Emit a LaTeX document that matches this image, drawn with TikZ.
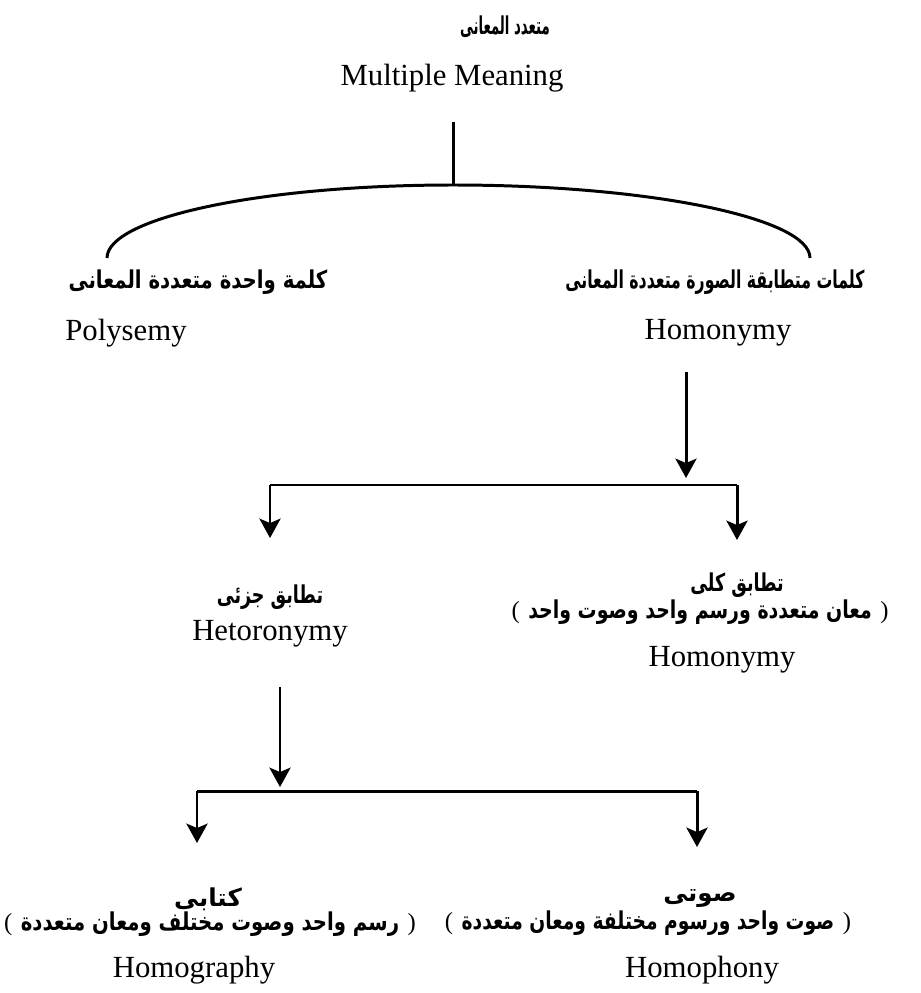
\documentclass[tikz,border=0pt]{standalone}
\usepackage{fontspec}
\usepackage{graphicx}
\setmainfont{Liberation Serif}
\newfontfamily\arabicfont[Script=Arabic]{DejaVu Sans}
\TeXXeTstate=1
\usetikzlibrary{arrows.meta}
\newcommand\lp{{\normalfont(}}
\newcommand\rp{{\normalfont)}}
\begin{document}
\begin{tikzpicture}[x=0.02cm,y=-0.02cm,
  en/.style={font=\fontsize{17.5}{20}\selectfont, inner sep=0pt},
  ar/.style={font=\arabicfont\bfseries\fontsize{14}{16}\selectfont, inner sep=0pt},
  ln/.style={line width=1.7pt},
  arr/.style={line width=1.7pt, -{Stealth[length=11pt,width=12pt,inset=2.5pt]}}]
\useasboundingbox (0,0) rectangle (920,993);
% top
\node[ar] (tar) at (505,27) {\scalebox{0.54}[1]{\beginR متعدد المعانى\endR}};
\node[en] (tmm) at (452,78) {Multiple Meaning};
\coordinate (vtop) at (453,122);
\coordinate (atop) at (453,185);
\coordinate (lend) at (107,258);
\coordinate (rend) at (810,258);
\draw[ln] (vtop) -- (atop);
\draw[ln] (lend) .. controls (107,218) and (261,185) .. (atop) .. controls (649,185) and (810,218) .. (rend);
% level 1 labels
\node[ar] (lar) at (198,282) {\scalebox{0.8}[1]{\beginR كلمة واحدة متعددة المعانى\endR}};
\node[en] (poly) at (126,333) {Polysemy};
\node[ar] (rar) at (715,282) {\scalebox{0.64}[1]{\beginR كلمات متطابقة الصورة متعددة المعانى\endR}};
\node[en] (homo) at (718,333) {Homonymy};
% level 1 arrows
\coordinate (a1s) at (686,372);
\coordinate (a1e) at (686,478);
\coordinate (j1l) at (270,485);
\coordinate (j1r) at (737,485);
\coordinate (b1l) at (270,538);
\coordinate (b1r) at (737,540);
\draw[arr] (a1s) -- (a1e);
\draw[ln] (j1l) -- (j1r);
\draw[arr] (j1l) -- (b1l);
\draw[arr] (j1r) -- (b1r);
% mid labels
\node[ar] (mlar) at (270,597) {\scalebox{0.71}[1]{\beginR تطابق جزئى\endR}};
\node[en] (het) at (270,634) {Hetoronymy};
\node[ar] (mrar) at (737,585) {\scalebox{0.71}[1]{\beginR تطابق كلى\endR}};
\node[ar] (mrp) at (700,612) {\lp\ \scalebox{0.77}[1]{\beginR معان متعددة ورسم واحد وصوت واحد\endR}\ \rp};
\node[en] (homo2) at (722,660) {Homonymy};
% level 2 arrows
\coordinate (a2s) at (280,687);
\coordinate (a2e) at (280,787);
\coordinate (j2l) at (197,791);
\coordinate (j2r) at (697,791);
\coordinate (b2l) at (197,843);
\coordinate (b2r) at (697,847);
\draw[arr] (a2s) -- (a2e);
\draw[ln] (j2l) -- (j2r);
\draw[arr] (j2l) -- (b2l);
\draw[arr] (j2r) -- (b2r);
% bottom labels
\node[ar] (blar) at (208,899) {\beginR كتابى\endR};
\node[ar] (blp) at (210,924) {\lp\ \scalebox{0.8}[1]{\beginR رسم واحد وصوت مختلف ومعان متعددة\endR}\ \rp};
\node[en] (hgr) at (194,970) {Homography};
\node[ar] (brar) at (700,898) {\beginR صوتى\endR};
\node[ar] (brp) at (648,923) {\lp\ \scalebox{0.76}[1]{\beginR صوت واحد ورسوم مختلفة ومعان متعددة\endR}\ \rp};
\node[en] (hph) at (702,970) {Homophony};
\end{tikzpicture}
\end{document}
